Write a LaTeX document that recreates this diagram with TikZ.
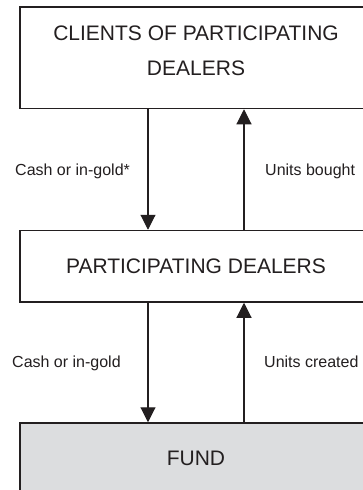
\documentclass[tikz,border=0pt]{standalone}
\usepackage{fontspec}
\setmainfont{Liberation Sans}
\usetikzlibrary{arrows.meta}
\definecolor{ink}{HTML}{231F20}
\definecolor{fundgray}{HTML}{DCDDDF}
\begin{document}
\begin{tikzpicture}[x=1pt,y=-1pt,
  box/.style={draw=ink, line width=1.5pt, rectangle, minimum width=352pt, inner sep=0pt},
  boxtext/.style={inner sep=0pt, anchor=base, text=ink, font=\fontsize{21}{25}\selectfont},
  lbl/.style={inner sep=0pt, anchor=base west, text=ink, font=\fontsize{16}{19}\selectfont},
  arr/.style={draw=ink, line width=1.1pt, -{Triangle[length=15pt,width=15pt]}}]
\useasboundingbox (0,0) rectangle (363,490);
\fill[white] (0,0) rectangle (363,490);
\node[box, minimum height=101.5pt] (top) at (196,57.75) {};
\node[box, minimum height=71.5pt] (mid) at (196,266.25) {};
\node[box, fill=fundgray, minimum height=68pt] (fund) at (196,457) {};
\node[boxtext] (t1) at (196,40) {CLIENTS OF PARTICIPATING};
\node[boxtext] (t2) at (196,75) {DEALERS};
\node[boxtext] (t3) at (196,273.3) {PARTICIPATING DEALERS};
\node[boxtext] (t4) at (196,465) {FUND};
\draw[arr] ([xshift=-48pt]top.south) -- ([xshift=-48pt]mid.north);
\draw[arr] ([xshift=48pt]mid.north) -- ([xshift=48pt]top.south);
\draw[arr] ([xshift=-48pt]mid.south) -- ([xshift=-48pt]fund.north);
\draw[arr] ([xshift=48pt]fund.north) -- ([xshift=48pt]mid.south);
\node[lbl] (l1) at (15,175) {Cash or in-gold*};
\node[lbl] (l2) at (265,175) {Units bought};
\node[lbl] (l3) at (12,367) {Cash or in-gold};
\node[lbl] (l4) at (264,367) {Units created};
\end{tikzpicture}
\end{document}
